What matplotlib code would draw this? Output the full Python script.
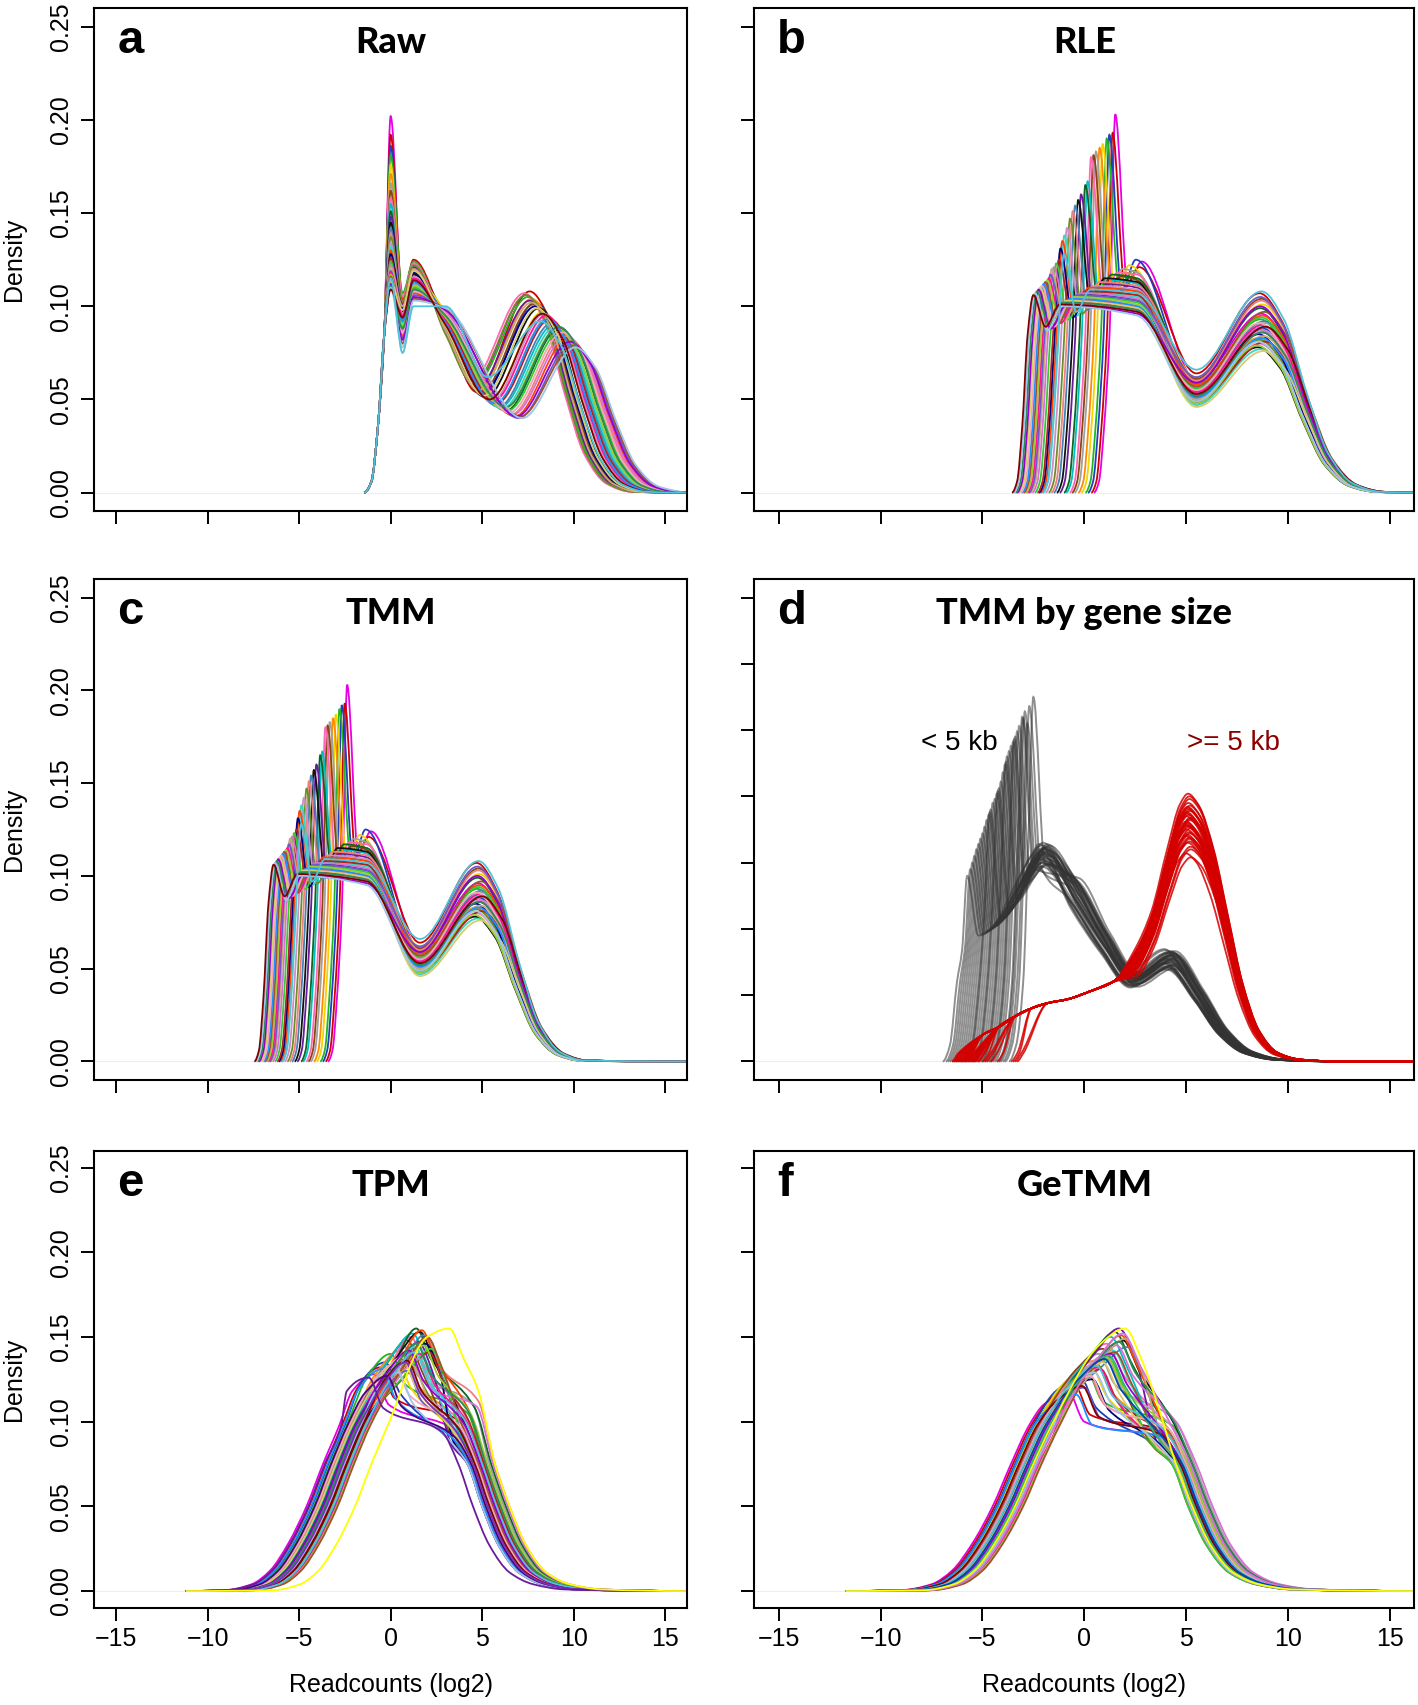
import numpy as np
import matplotlib
matplotlib.use("Agg")
import matplotlib.pyplot as plt
from matplotlib.path import Path
from matplotlib.patches import PathPatch

W, H = 1418, 1705
XMAX = 16.2

palette = ['#E600E6', '#D10000', '#1F3FBF', '#22B422', '#F2D500', '#FF8C00', '#A0A0A0', '#8B4513',
           '#FF69B4', '#00BFC4', '#0B6623', '#6A1B9A', '#111111', '#4682B4', '#F08080', '#6B8E23',
           '#C990C9', '#3CD6C0', '#FF4500', '#000080', '#B22222', '#32CD32', '#DA70D6', '#C8A878',
           '#6A5ACD', '#FF1493', '#9ACD32', '#A0522D', '#1E90FF', '#F4A6B7', '#D8CC70', '#9400D3',
           '#2E8B57', '#9FC5E8', '#800000', '#4FC3D9']

# ---- a: Raw (spike at 0, hump, right peak) ----
a_spike = [0.202, 0.192, 0.186, 0.181, 0.176, 0.171, 0.166, 0.162, 0.158, 0.155, 0.151, 0.148,
           0.145, 0.142, 0.139, 0.137, 0.134, 0.132, 0.130, 0.128, 0.126, 0.124, 0.122, 0.121,
           0.119, 0.118, 0.117, 0.116, 0.115, 0.114, 0.113, 0.112, 0.111, 0.110, 0.109, 0.115]
a_dip1 = [0.100, 0.104, 0.098, 0.107, 0.095, 0.102, 0.090, 0.099, 0.105, 0.093, 0.088, 0.101,
          0.097, 0.092, 0.086, 0.103, 0.096, 0.091, 0.084, 0.099, 0.094, 0.089, 0.087, 0.100,
          0.083, 0.095, 0.090, 0.080, 0.092, 0.086, 0.098, 0.082, 0.088, 0.078, 0.094, 0.075]
a_hump = [0.122, 0.125, 0.118, 0.124, 0.115, 0.120, 0.112, 0.119, 0.123, 0.113, 0.110, 0.121,
          0.117, 0.114, 0.108, 0.122, 0.116, 0.111, 0.107, 0.118, 0.113, 0.110, 0.109, 0.120,
          0.106, 0.115, 0.111, 0.104, 0.113, 0.108, 0.119, 0.105, 0.109, 0.103, 0.114, 0.100]
a_mid = [0.092, 0.090, 0.095, 0.088, 0.097, 0.091, 0.094, 0.089, 0.087, 0.096, 0.093, 0.086,
         0.092, 0.095, 0.097, 0.085, 0.091, 0.094, 0.096, 0.088, 0.093, 0.095, 0.097, 0.087,
         0.098, 0.092, 0.094, 0.099, 0.091, 0.096, 0.089, 0.098, 0.095, 0.099, 0.090, 0.100]
a_peak_x = [7.4, 7.6, 7.9, 7.5, 8.3, 7.7, 8.6, 7.8, 7.3, 8.9, 9.2, 7.6, 8.1, 8.8, 9.5, 7.4, 8.4, 9.0,
            9.7, 7.9, 8.7, 9.3, 9.6, 7.7, 9.9, 8.5, 9.1, 10.0, 8.6, 9.4, 8.0, 9.8, 9.2, 10.1, 8.3, 8.2]
a_peak_y = [0.106, 0.108, 0.102, 0.105, 0.097, 0.104, 0.094, 0.101, 0.107, 0.090, 0.088, 0.103,
            0.099, 0.091, 0.085, 0.106, 0.096, 0.089, 0.083, 0.100, 0.093, 0.087, 0.084, 0.102,
            0.080, 0.095, 0.088, 0.079, 0.093, 0.086, 0.099, 0.081, 0.089, 0.078, 0.096, 0.092]
a_dip2 = [0.057, 0.054, 0.052, 0.058, 0.050, 0.055, 0.047, 0.053, 0.060, 0.046, 0.044, 0.056,
          0.051, 0.046, 0.042, 0.059, 0.049, 0.045, 0.041, 0.053, 0.048, 0.044, 0.042, 0.055,
          0.040, 0.049, 0.045, 0.041, 0.048, 0.043, 0.052, 0.041, 0.046, 0.040, 0.050, 0.062]

# ---- b: RLE (c: TMM is the same set moved by tmm_shift) ----
b_spike_x = [1.52, 1.39, 1.23, 1.1, 0.9, 0.75, 0.57, 0.45, 0.33, 0.16, 0.05, -0.16, -0.3, -0.45,
             -0.57, -0.7, -0.85, -0.98, -1.08, -1.17, -1.25, -1.38, -1.5, -1.6, -1.67, -1.75,
             -1.83, -1.92, -2.0, -2.08, -2.17, -2.25, -2.33, -2.42, -2.5, -1.0]
b_spike_y = [0.203, 0.193, 0.192, 0.190, 0.187, 0.185, 0.183, 0.181, 0.180, 0.167, 0.165, 0.160,
             0.157, 0.154, 0.151, 0.147, 0.142, 0.138, 0.135, 0.131, 0.125, 0.123, 0.121, 0.120,
             0.117, 0.115, 0.114, 0.113, 0.112, 0.111, 0.110, 0.109, 0.108, 0.107, 0.106, 0.128]
b_dip1 = [0.112, 0.110, 0.108, 0.111, 0.106, 0.109, 0.104, 0.107, 0.103, 0.101, 0.104, 0.099,
          0.102, 0.098, 0.100, 0.096, 0.099, 0.095, 0.097, 0.094, 0.096, 0.093, 0.095, 0.092,
          0.094, 0.091, 0.093, 0.090, 0.092, 0.089, 0.091, 0.088, 0.090, 0.087, 0.089, 0.097]
b_hump = [0.124, 0.121, 0.125, 0.119, 0.122, 0.118, 0.120, 0.116, 0.118, 0.114, 0.117, 0.112,
          0.115, 0.110, 0.113, 0.108, 0.111, 0.107, 0.110, 0.106, 0.108, 0.105, 0.107, 0.104,
          0.106, 0.103, 0.105, 0.102, 0.104, 0.101, 0.103, 0.100, 0.102, 0.100, 0.101, 0.109]
b_mid = [0.120, 0.120, 0.120, 0.120, 0.120, 0.120, 0.118, 0.114, 0.117, 0.112, 0.115, 0.110,
         0.113, 0.108, 0.111, 0.106, 0.109, 0.105, 0.108, 0.103, 0.106, 0.102, 0.104, 0.100,
         0.103, 0.099, 0.101, 0.098, 0.100, 0.097, 0.099, 0.096, 0.098, 0.095, 0.097, 0.107]
b_dip2 = [0.060, 0.064, 0.055, 0.058, 0.062, 0.052, 0.057, 0.061, 0.050, 0.055, 0.059, 0.053,
          0.048, 0.056, 0.060, 0.051, 0.054, 0.047, 0.058, 0.052, 0.049, 0.056, 0.053, 0.050,
          0.062, 0.054, 0.048, 0.057, 0.051, 0.055, 0.046, 0.059, 0.052, 0.049, 0.053, 0.066]
b_peak_x = [8.7, 8.6, 8.8, 8.65, 8.75, 8.55, 8.9, 8.7, 8.6, 8.8, 8.65, 8.75, 8.5, 8.85, 8.7, 8.6,
            8.8, 8.65, 8.75, 8.55, 8.9, 8.7, 8.6, 8.8, 8.65, 8.75, 8.5, 8.85, 8.7, 8.6, 8.8, 8.65,
            8.75, 8.55, 8.9, 8.7]
b_peak_y = [0.096, 0.107, 0.088, 0.093, 0.101, 0.083, 0.091, 0.104, 0.080, 0.089, 0.099, 0.086,
            0.078, 0.092, 0.103, 0.082, 0.087, 0.077, 0.095, 0.085, 0.081, 0.094, 0.088, 0.084,
            0.105, 0.090, 0.079, 0.097, 0.083, 0.091, 0.076, 0.100, 0.086, 0.081, 0.089, 0.108]
tmm_shift = -3.9

# ---- d: TMM by gene size ----
d_grey_x = [-2.5, -2.7, -2.92, -3.05, -3.2, -3.3, -3.4, -3.5, -3.6, -3.7, -3.8, -3.9, -4.0, -4.1,
            -4.2, -4.3, -4.4, -4.5, -4.6, -4.7, -4.8, -4.9, -5.0, -5.1, -5.2, -5.3, -5.4, -5.5,
            -5.6, -5.75, -3.0, -3.45, -3.85, -4.25, -4.65, -2.8]
d_grey_y = [0.275, 0.268, 0.264, 0.260, 0.253, 0.249, 0.245, 0.241, 0.238, 0.234, 0.230, 0.224,
            0.218, 0.211, 0.206, 0.202, 0.198, 0.195, 0.190, 0.186, 0.182, 0.177, 0.172, 0.168,
            0.164, 0.160, 0.155, 0.150, 0.145, 0.140, 0.259, 0.243, 0.226, 0.204, 0.188, 0.255]
d_grey_dip = [0.150, 0.148, 0.145, 0.143, 0.140, 0.138, 0.135, 0.133, 0.130, 0.128, 0.125, 0.122,
              0.120, 0.118, 0.115, 0.113, 0.112, 0.110, 0.108, 0.107, 0.105, 0.104, 0.102, 0.101,
              0.100, 0.099, 0.098, 0.097, 0.096, 0.095, 0.146, 0.134, 0.124, 0.116, 0.109, 0.147]
d_grey_hump = [0.160, 0.158, 0.162, 0.150, 0.164, 0.155, 0.161, 0.148, 0.159, 0.163, 0.152, 0.157,
               0.165, 0.149, 0.158, 0.161, 0.153, 0.156, 0.162, 0.147, 0.159, 0.154, 0.160, 0.151,
               0.163, 0.157, 0.150, 0.158, 0.161, 0.155, 0.156, 0.153, 0.164, 0.149, 0.160, 0.157]
d_grey_scale = [1.04, 0.95, 1.08, 0.92, 1.00, 1.10, 0.97, 1.05, 0.91, 1.02, 1.09, 0.94, 0.99, 1.06,
                0.90, 1.03, 0.96, 1.07, 1.00, 0.93, 1.05, 0.97, 1.08, 0.94, 1.01, 0.91, 1.06, 0.98,
                1.03, 0.95, 1.00, 1.07, 0.93, 1.04, 0.97, 1.01]
d_grey_shift = [0.08, -0.2, 0.25, -0.08, 0.15, -0.28, 0.00, 0.18, -0.12, 0.28, -0.22, 0.09,
                -0.03, 0.21, -0.15, 0.12, -0.24, 0.05, 0.17, -0.09, 0.24, -0.19, 0.03, 0.14,
                -0.06, 0.2, -0.17, 0.11, -0.02, 0.26, -0.14, 0.06, -0.21, 0.15, -0.05, 0.02]
grey_tail_x = [-0.5, 1.0, 2.4, 4.2, 5.6, 6.8, 8.0, 9.5, 12.0]
grey_tail_y = [0.128, 0.090, 0.062, 0.077, 0.050, 0.022, 0.007, 0.0015, 0.0002]

d_red_start = [-6.5, -6.3, -6.1, -5.9, -5.7, -5.5, -6.4, -6.2, -6.0, -5.8, -5.6, -5.4, -5.2, -5.0,
               -4.8, -6.45, -6.25, -6.05, -5.85, -5.65, -5.45, -5.25, -3.6, -3.4, -3.3, -3.5,
               -6.35, -6.15, -5.95, -5.75, -5.55, -5.35, -4.9, -4.6, -4.3, -6.0]
d_red_peak = [0.200, 0.185, 0.176, 0.192, 0.168, 0.181, 0.195, 0.172, 0.188, 0.160, 0.178, 0.190,
              0.165, 0.183, 0.175, 0.198, 0.170, 0.186, 0.162, 0.180, 0.193, 0.157, 0.177, 0.189,
              0.171, 0.184, 0.202, 0.166, 0.179, 0.154, 0.187, 0.173, 0.182, 0.191, 0.169, 0.178]
d_red_shift = [0.05, -0.08, 0.10, -0.03, 0.07, -0.10, 0.00, 0.08, -0.06, 0.12, -0.09, 0.04,
               -0.02, 0.09, -0.07, 0.06, -0.11, 0.02, 0.11, -0.04, 0.08, -0.12, 0.01, 0.07,
               -0.05, 0.10, -0.01, 0.05, -0.08, 0.12, -0.06, 0.03, 0.09, -0.03, 0.06, 0.00]
red_base_x = [-5.8, -5.0, -4.2, -3.4, -2.6, -1.8, -0.8, 0.3, 1.4]
red_base_y = [0.010, 0.020, 0.026, 0.034, 0.040, 0.044, 0.047, 0.053, 0.060]
red_peak_x = [2.5, 3.3, 4.1, 4.7, 5.1, 5.6, 6.3, 7.0, 7.7, 8.5, 9.4, 10.5, 12.0]
red_peak_f = [0.42, 0.56, 0.80, 0.96, 1.00, 0.96, 0.80, 0.55, 0.30, 0.12, 0.035, 0.008, 0.001]

# ---- e: TPM ----
e_L = [-4.6, -4.45, -4.3, -4.2, -4.1, -4.0, -3.95, -3.9, -3.85, -3.8, -3.75, -3.7, -3.65, -3.6,
       -3.55, -3.5, -3.45, -3.4, -3.35, -3.3, -3.25, -3.2, -3.15, -3.1, -3.05, -3.0, -2.95, -2.9,
       -4.35, -4.05, -3.9, -3.7, -3.6, -3.45, -3.3, -3.15, -4.15, -3.5, -4.5, -1.95]
e_X = [-0.9, -0.6, -0.3, 0.0, 0.3, 0.5, 0.7, 0.9, 1.1, 1.2, 1.4, 1.5, 1.6, 1.8, 2.0, 1.0, 0.8, 1.3,
       1.7, 1.9, 2.1, 2.2, 1.5, 1.2, 0.9, 1.6, 1.8, 2.0, -0.5, 0.2, 0.6, 1.0, 1.4, 0.4, 0.9, 1.3,
       -0.2, 0.8, -1.2, 3.2]
e_P = [0.128, 0.132, 0.135, 0.140, 0.138, 0.142, 0.145, 0.148, 0.150, 0.152, 0.155, 0.147, 0.153,
       0.151, 0.149, 0.139, 0.136, 0.144, 0.154, 0.146, 0.141, 0.143, 0.137, 0.133, 0.130, 0.140,
       0.145, 0.150, 0.131, 0.134, 0.138, 0.142, 0.146, 0.129, 0.136, 0.141, 0.127, 0.135, 0.126,
       0.155]
e_Q = [0.118, 0.120, 0.125, 0.128, 0.124, 0.130, 0.131, 0.133, 0.132, 0.138, 0.135, 0.130, 0.139,
       0.132, 0.134, 0.127, 0.123, 0.130, 0.136, 0.131, 0.128, 0.130, 0.124, 0.122, 0.119, 0.127,
       0.130, 0.134, 0.120, 0.123, 0.126, 0.129, 0.132, 0.118, 0.125, 0.127, 0.117, 0.122, 0.118,
       0.150]
e_S = [0.095, 0.100, 0.088, 0.105, 0.092, 0.098, 0.110, 0.090, 0.103, 0.094, 0.108, 0.087, 0.100,
       0.096, 0.112, 0.091, 0.099, 0.093, 0.106, 0.089, 0.102, 0.097, 0.109, 0.092, 0.095, 0.101,
       0.104, 0.098, 0.090, 0.097, 0.093, 0.099, 0.105, 0.088, 0.096, 0.100, 0.091, 0.094, 0.094,
       0.118]
e_R = [5.2, 5.5, 5.0, 5.9, 5.3, 5.6, 6.2, 5.1, 5.8, 5.4, 6.3, 5.0, 5.7, 5.5, 6.5, 5.2, 5.6, 5.3,
       6.0, 5.1, 5.9, 5.4, 6.4, 5.3, 5.5, 5.8, 6.1, 5.6, 5.1, 5.5, 5.2, 5.7, 6.0, 5.0, 5.4, 5.8,
       5.2, 5.3, 4.5, 6.5]
e_colours = palette + ['#4B0082', '#7B2FBE', '#6A1B9A', '#FFFF00']
e_start = -11.2

# ---- f: GeTMM ----
f_L = [-4.5, -4.4, -4.3, -4.2, -4.15, -4.1, -4.05, -4.0, -3.95, -3.9, -3.85, -3.8, -3.75, -3.7,
       -3.65, -3.6, -3.55, -3.5, -3.45, -3.4, -3.35, -3.3, -3.25, -3.2, -3.15, -3.1, -3.05, -3.0,
       -4.25, -3.9, -3.75, -3.6, -3.45, -3.3, -4.1, -3.85, -3.5, -3.2, -3.7, -3.4]
f_X = [-0.8, -0.5, -0.2, 0.1, 0.3, 0.5, 0.7, 0.9, 1.1, 1.3, 1.5, 1.7, 1.9, 2.1, 0.2, 0.6, 1.0, 1.4,
       1.8, 0.4, 0.8, 1.2, 1.6, 2.0, 0.0, 0.7, 1.1, 1.5, -0.4, 0.3, 0.9, 1.3, 1.7, 0.5, -0.1, 0.6,
       1.2, 1.9, 1.0, 2.0]
f_P = [0.118, 0.122, 0.126, 0.130, 0.133, 0.136, 0.140, 0.143, 0.146, 0.150, 0.153, 0.155, 0.148,
       0.144, 0.128, 0.134, 0.139, 0.142, 0.151, 0.125, 0.131, 0.137, 0.145, 0.149, 0.120, 0.132,
       0.138, 0.141, 0.116, 0.127, 0.135, 0.140, 0.147, 0.129, 0.121, 0.133, 0.139, 0.152, 0.137,
       0.155]
f_Q = [0.110, 0.113, 0.118, 0.120, 0.124, 0.125, 0.128, 0.132, 0.133, 0.136, 0.138, 0.140, 0.136,
       0.133, 0.120, 0.124, 0.128, 0.131, 0.136, 0.117, 0.121, 0.126, 0.132, 0.135, 0.112, 0.122,
       0.127, 0.130, 0.109, 0.119, 0.124, 0.129, 0.134, 0.120, 0.113, 0.123, 0.128, 0.138, 0.126,
       0.146]
f_S = [0.090, 0.094, 0.086, 0.098, 0.088, 0.092, 0.100, 0.085, 0.096, 0.089, 0.093, 0.087, 0.099,
       0.091, 0.095, 0.084, 0.097, 0.090, 0.094, 0.088, 0.092, 0.086, 0.098, 0.090, 0.093, 0.087,
       0.095, 0.089, 0.091, 0.096, 0.085, 0.093, 0.100, 0.088, 0.092, 0.094, 0.089, 0.097, 0.090,
       0.110]
f_R = [5.4, 5.7, 5.2, 6.0, 5.3, 5.6, 6.2, 5.1, 5.8, 5.4, 5.9, 5.3, 6.1, 5.5, 5.7, 5.2, 6.0, 5.4,
       5.8, 5.3, 5.6, 5.1, 6.3, 5.5, 5.7, 5.2, 5.9, 5.4, 5.5, 5.8, 5.3, 5.6, 6.1, 5.2, 5.5, 5.7,
       5.4, 6.0, 5.6, 5.3]
f_colours = palette + ['#3CB371', '#DA70D6', '#0047AB', '#FFFF00']
f_start = -11.7


def smooth_path(xs, ys):
    # keep x strictly increasing, then draw a shape-preserving cubic through the points
    px, py = [xs[0]], [ys[0]]
    for x, y in zip(xs[1:], ys[1:]):
        if x > px[-1] + 1e-6:
            px.append(x)
            py.append(y)
    px, py = np.array(px), np.array(py)
    h = np.diff(px)
    d = np.diff(py) / h
    m = np.zeros_like(px)
    for k in range(1, len(px) - 1):
        if d[k - 1] * d[k] > 0:
            w1 = 2 * h[k] + h[k - 1]
            w2 = h[k] + 2 * h[k - 1]
            m[k] = (w1 + w2) / (w1 / d[k - 1] + w2 / d[k])
    verts = [(px[0], py[0])]
    codes = [Path.MOVETO]
    for k in range(len(px) - 1):
        verts += [(px[k] + h[k] / 3, py[k] + m[k] * h[k] / 3),
                  (px[k + 1] - h[k] / 3, py[k + 1] - m[k + 1] * h[k] / 3),
                  (px[k + 1], py[k + 1])]
        codes += [Path.CURVE4] * 3
    return Path(verts, codes)


def draw(ax, xs, ys, colour, lw=1.3, alpha=1.0):
    ax.add_patch(PathPatch(smooth_path(xs, ys), fill=False, edgecolor=colour, lw=lw, alpha=alpha))


def tail(p, v):
    return ([p + 1.1, p + 2.2, p + 3.3, p + 4.5, p + 5.8, XMAX],
            [0.86 * v, 0.5 * v, 0.19 * v, 0.045 * v, 0.005 * v, 0.0])


def raw_curve(i):
    h, d1, u, mid = a_spike[i], a_dip1[i], a_hump[i], a_mid[i]
    p, v, d2 = a_peak_x[i], a_peak_y[i], a_dip2[i]
    tx, ty = tail(p, v)
    xs = [-1.45, -1.05, -0.7, -0.35, 0.0, 0.65, 1.25, 3.0, p - 2.9, p] + tx
    ys = [0.0, 0.006, 0.035, 0.085, h, d1, u, mid, d2, v] + ty
    return xs, ys


def rle_curve(i, shift=0.0):
    c, h = b_spike_x[i], b_spike_y[i]
    p, v = b_peak_x[i], b_peak_y[i]
    xs = [c - 1.05, c - 0.8, c - 0.55, c - 0.28, c, c + 0.6, c + 1.3]
    ys = [0.0, 0.006, 0.035, 0.085, h, b_dip1[i], b_hump[i]]
    if c + 1.3 < 2.0:
        xs.append(2.6)
        ys.append(b_mid[i])
    tx, ty = tail(p, v)
    xs += [5.5, p] + tx[:-1]
    ys += [b_dip2[i], v] + ty[:-1]
    xs = [x + shift for x in xs] + [XMAX]
    ys = ys + [0.0]
    return xs, ys


def grey_curve(i):
    c, h = d_grey_x[i], d_grey_y[i]
    s, sh = d_grey_scale[i], d_grey_shift[i]
    xs = [c - 1.2, c - 0.85, c - 0.5, c - 0.25, c, c + 0.55]
    ys = [0.0, 0.012, 0.06, 0.6 * h, h, d_grey_dip[i]]
    if c + 0.55 < -2.4:
        xs.append(-2.0 + sh)
        ys.append(d_grey_hump[i])
    xs += [x + sh for x in grey_tail_x] + [XMAX]
    ys += [y * s for y in grey_tail_y] + [0.0]
    return xs, ys


def red_curve(i):
    s, v, sh = d_red_start[i], d_red_peak[i], d_red_shift[i]
    xs, ys = [s, s + 0.3], [0.0, 0.006]
    for x, y in zip(red_base_x, red_base_y):
        if x >= s + 0.8:
            xs.append(x)
            ys.append(y)
    xs += [x + sh for x in red_peak_x] + [XMAX]
    ys += [f * v for f in red_peak_f] + [0.0]
    return xs, ys


def unimodal_curve(start, L, X, P, Q, S, R):
    xs = [start, L - 4.5, L - 3.0, L - 2.0, L - 1.0, L, L + 0.9, L + 1.8,
          X - 1.2, X, X + 0.8, R - 1.7, R - 0.8, R, R + 0.9, R + 2.0, R + 3.3, R + 5.0, XMAX]
    ys = [0.0, 0.0005, 0.004, 0.012, 0.028, 0.05, 0.075, 0.098,
          Q, P, P - 0.018, S, 0.075, 0.05, 0.027, 0.011, 0.004, 0.001, 0.0]
    return xs, ys


def style_axes(ax, ylim, yticks, show_ylabels, show_xlabels):
    ax.set_xlim(-XMAX, XMAX)
    ax.set_ylim(*ylim)
    ax.set_xticks([-15, -10, -5, 0, 5, 10, 15])
    ax.set_yticks(yticks)
    for sp in ax.spines.values():
        sp.set_linewidth(1.5)
    ax.tick_params(direction='out', length=9.5, width=1.4, labelsize=18, pad=4)
    ax.tick_params(axis='y', pad=5.5)
    if show_xlabels:
        ax.set_xticklabels(['\u221215', '\u221210', '\u22125', '0', '5', '10', '15'])
    else:
        ax.set_xticklabels([])
    if show_ylabels:
        ax.set_yticklabels(['%.2f' % t for t in yticks], rotation=90, va='center')
    else:
        ax.set_yticklabels([])
    ax.axhline(0, color='#eeeeee', lw=0.8, zorder=0)


def label_panel(ax, letter, title, box_w, box_h):
    yb = 1 - 45 / box_h
    ax.text(23 / box_w, yb, letter, transform=ax.transAxes, ha='left', va='baseline',
            fontsize=34, fontweight='bold', family=['Liberation Sans', 'DejaVu Sans'])
    ax.text(0.5, yb, title, transform=ax.transAxes, ha='center', va='baseline',
            fontsize=26, fontweight=900, family=['Lato', 'DejaVu Sans'])


plt.rcParams['font.family'] = ['Liberation Sans', 'DejaVu Sans']
fig = plt.figure(figsize=(W / 100, H / 100), dpi=100)
fig.patch.set_facecolor('white')

cols = [(94.3, 592.7), (754.3, 660.0)]
rows = [(8.1, 503.2), (579.0, 501.0), (1150.6, 457.4)]


def make_ax(ci, ri):
    left, w = cols[ci]
    top, h = rows[ri]
    return fig.add_axes([left / W, 1 - (top + h) / H, w / W, h / H]), w, h


std_ylim = (-0.01, 0.26)
std_ticks = [0.0, 0.05, 0.10, 0.15, 0.20, 0.25]

# a
ax, bw, bh = make_ax(0, 0)
style_axes(ax, std_ylim, std_ticks, True, False)
for i in range(len(a_spike)):
    xs, ys = raw_curve(i)
    draw(ax, xs, ys, palette[i % len(palette)])
label_panel(ax, 'a', 'Raw', bw, bh)

# b
ax, bw, bh = make_ax(1, 0)
style_axes(ax, std_ylim, std_ticks, False, False)
for i in range(len(b_spike_x)):
    xs, ys = rle_curve(i)
    draw(ax, xs, ys, palette[i % len(palette)])
label_panel(ax, 'b', 'RLE', bw, bh)

# c
ax, bw, bh = make_ax(0, 1)
style_axes(ax, std_ylim, std_ticks, True, False)
for i in range(len(b_spike_x)):
    xs, ys = rle_curve(i, tmm_shift)
    draw(ax, xs, ys, palette[i % len(palette)])
label_panel(ax, 'c', 'TMM', bw, bh)

# d
ax, bw, bh = make_ax(1, 1)
style_axes(ax, (-0.014, 0.364), [0.0, 0.05, 0.10, 0.15, 0.20, 0.25, 0.30, 0.35], False, False)
for i in range(len(d_grey_x)):
    xs, ys = grey_curve(i)
    draw(ax, xs, ys, (0.2, 0.2, 0.2), lw=1.4, alpha=0.55)
for i in range(len(d_red_start)):
    xs, ys = red_curve(i)
    draw(ax, xs, ys, '#D40000', lw=1.3, alpha=0.85)
ax.text(-6.15, 0.2406, '< 5 kb', ha='center', va='center', fontsize=20, color='black')
ax.text(7.33, 0.2406, '>= 5 kb', ha='center', va='center', fontsize=20, color='#8B0000')
label_panel(ax, 'd', 'TMM by gene size', bw, bh)

# e
ax, bw, bh = make_ax(0, 2)
style_axes(ax, std_ylim, std_ticks, True, True)
for i in range(len(e_L)):
    xs, ys = unimodal_curve(e_start, e_L[i], e_X[i], e_P[i], e_Q[i], e_S[i], e_R[i])
    draw(ax, xs, ys, e_colours[i])
label_panel(ax, 'e', 'TPM', bw, bh)

# f
ax, bw, bh = make_ax(1, 2)
style_axes(ax, std_ylim, std_ticks, False, True)
for i in range(len(f_L)):
    xs, ys = unimodal_curve(f_start, f_L[i], f_X[i], f_P[i], f_Q[i], f_S[i], f_R[i])
    draw(ax, xs, ys, f_colours[i])
label_panel(ax, 'f', 'GeTMM', bw, bh)

# shared axis titles
for top, h in rows:
    fig.text(14 / W, 1 - (top + h / 2) / H, 'Density', rotation=90, ha='center', va='center',
             fontsize=18)
for left, w in cols:
    fig.text((left + w / 2) / W, 1 - 1685 / H, 'Readcounts (log2)', ha='center', va='center',
             fontsize=18)

fig.savefig('out.png', dpi=100)
